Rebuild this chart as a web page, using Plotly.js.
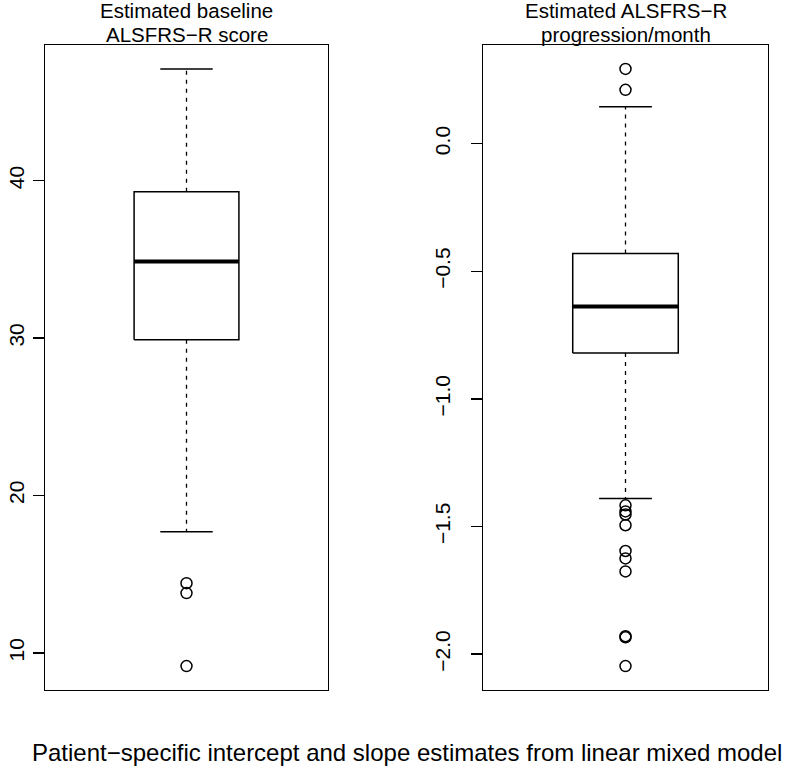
<!DOCTYPE html>
<html>
<head>
<meta charset="utf-8">
<script src="https://cdn.plot.ly/plotly-3.0.1.min.js"></script>
<style>html,body{margin:0;padding:0;background:#fff;}#chart{width:787px;height:770px;}</style>
</head>
<body>
<div id="chart"></div>
<script>
// Box statistics: [lower whisker, Q1, median, Q3, upper whisker]
const baselineStats = [17.7, 29.9, 34.87, 39.3, 47.1];
const baselineOutliers = [14.43, 13.80, 9.16];
const slopeStats = [-1.39, -0.82, -0.638, -0.430, 0.145];
const slopeOutliers = [0.293, 0.211, -1.417, -1.441, -1.453, -1.495, -1.596, -1.625, -1.676, -1.930, -1.934, -2.047];

const baselineTitle = ["Estimated baseline", "ALSFRS\u2212R score"];
const slopeTitle = ["Estimated ALSFRS\u2212R", "progression/month"];
const caption = "Patient\u2212specific intercept and slope estimates from linear mixed model";

const baselineTicks = [10, 20, 30, 40];
const baselineTickText = ["10", "20", "30", "40"];
const slopeTicks = [0, -0.5, -1.0, -1.5, -2.0];
const slopeTickText = ["0.0", "\u22120.5", "\u22121.0", "\u22121.5", "\u22122.0"];

const FONT = "Liberation Sans, Arial, Helvetica, sans-serif";
const W = 787, H = 770;
const HALF = 0.2;

function boxTraces(stats, outliers, xa, ya) {
  const [lo, q1, med, q3, hi] = stats;
  const c = 1;
  const base = {xaxis: xa, yaxis: ya, mode: 'lines', hoverinfo: 'skip', showlegend: false};
  return [
    Object.assign({}, base, {x: [c, c], y: [q3, hi], line: {color: 'black', width: 1.3, dash: '4px,5px'}}),
    Object.assign({}, base, {x: [c, c], y: [q1, lo], line: {color: 'black', width: 1.3, dash: '4px,5px'}}),
    Object.assign({}, base, {x: [c - HALF / 2, c + HALF / 2], y: [hi, hi], line: {color: 'black', width: 1.5}}),
    Object.assign({}, base, {x: [c - HALF / 2, c + HALF / 2], y: [lo, lo], line: {color: 'black', width: 1.5}}),
    Object.assign({}, base, {x: [c - HALF, c + HALF, c + HALF, c - HALF, c - HALF], y: [q1, q1, q3, q3, q1], line: {color: 'black', width: 1.5}}),
    Object.assign({}, base, {x: [c - HALF, c + HALF], y: [med, med], line: {color: 'black', width: 4}}),
    {xaxis: xa, yaxis: ya, mode: 'markers', hoverinfo: 'skip', showlegend: false,
     x: outliers.map(() => c), y: outliers,
     marker: {symbol: 'circle-open', size: 11, color: 'black', line: {width: 1.5, color: 'black'}}}
  ];
}

function rRange(stats, outliers) {
  const all = stats.concat(outliers);
  const mn = Math.min(...all), mx = Math.max(...all);
  const pad = (mx - mn) * 0.04;
  return [mn - pad, mx + pad];
}

const data = boxTraces(baselineStats, baselineOutliers, 'x', 'y')
  .concat(boxTraces(slopeStats, slopeOutliers, 'x2', 'y2'));

const yDomain = [1 - 690 / H, 1 - 45 / H];
const xCommon = {range: [0.46, 1.54], showticklabels: false, ticks: '', showgrid: false, zeroline: false,
  showline: true, mirror: true, linecolor: 'black', linewidth: 1.3, fixedrange: true};
const yCommon = {showgrid: false, zeroline: false, showline: true, mirror: true, linecolor: 'black', linewidth: 1.3,
  ticks: 'outside', ticklen: 11, tickwidth: 1.3, tickcolor: 'black', tickangle: -90,
  tickfont: {family: FONT, size: 21, color: 'black'}, tickmode: 'array', domain: yDomain, fixedrange: true};

function titleAnns(lines, xref) {
  const ys = [10.5, 34.5];
  return lines.map((t, i) => ({text: t, xref: xref, x: 1, yref: 'paper', y: 1 - ys[i] / H,
    xanchor: 'center', yanchor: 'middle', showarrow: false, font: {family: FONT, size: 20.5, color: 'black'}}));
}

const layout = {
  width: W, height: H,
  margin: {l: 0, r: 0, t: 0, b: 0},
  paper_bgcolor: 'white', plot_bgcolor: 'white',
  showlegend: false,
  xaxis: Object.assign({}, xCommon, {domain: [45 / W, 328 / W], anchor: 'y'}),
  xaxis2: Object.assign({}, xCommon, {domain: [483 / W, 768 / W], anchor: 'y2'}),
  yaxis: Object.assign({}, yCommon, {anchor: 'x', range: rRange(baselineStats, baselineOutliers),
    tickvals: baselineTicks, ticktext: baselineTickText}),
  yaxis2: Object.assign({}, yCommon, {anchor: 'x2', range: rRange(slopeStats, slopeOutliers),
    tickvals: slopeTicks, ticktext: slopeTickText, ticklabelstandoff: 12}),
  annotations: titleAnns(baselineTitle, 'x').concat(titleAnns(slopeTitle, 'x2')).concat([
    {text: caption, xref: 'paper', x: 407 / W, yref: 'paper', y: 1 - 752 / H, xanchor: 'center', yanchor: 'middle',
     showarrow: false, font: {family: FONT, size: 24, color: 'black'}}
  ])
};

Plotly.newPlot('chart', data, layout, {displayModeBar: false, staticPlot: true});
</script>
</body>
</html>
